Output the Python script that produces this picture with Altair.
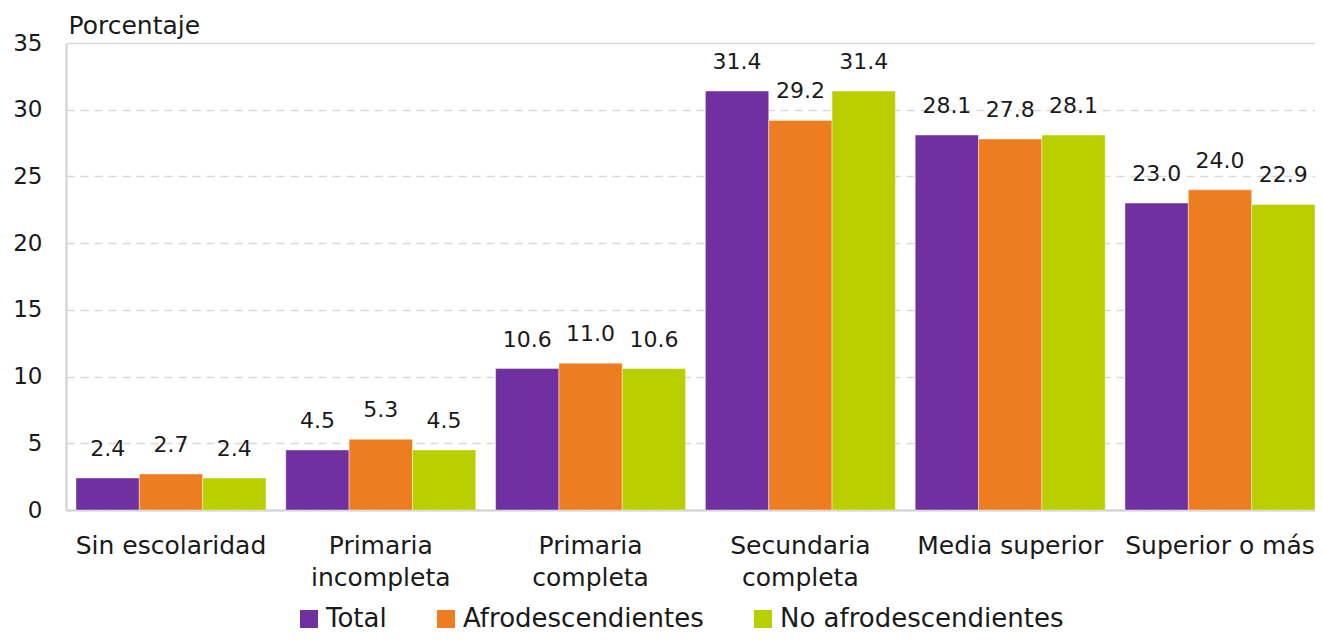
import altair as alt
import pandas as pd

categories = ["Sin escolaridad", "Primaria|incompleta", "Primaria|completa",
              "Secundaria|completa", "Media superior", "Superior o más"]
series = ["Total", "Afrodescendientes", "No afrodescendientes"]
total = [2.4, 4.5, 10.6, 31.4, 28.1, 23.0]
afro = [2.7, 5.3, 11.0, 29.2, 27.8, 24.0]
no_afro = [2.4, 4.5, 10.6, 31.4, 28.1, 22.9]
colors = ["#7030A0", "#EE7D22", "#B9CF00"]

rows = []
for i, c in enumerate(categories):
    for s, vals in zip(series, [total, afro, no_afro]):
        rows.append({"cat": c, "serie": s, "valor": vals[i], "label": f"{vals[i]:.1f}"})
df = pd.DataFrame(rows)

FONT = "DejaVu Sans"

x = alt.X("cat:N", sort=categories,
          scale=alt.Scale(paddingInner=0.0944, paddingOuter=0.0238, align=1),
          axis=alt.Axis(title=None, labelAngle=0, labelExpr="split(datum.label, '|')",
                        labelFontSize=25, labelFont=FONT, labelColor="#1a1a1a",
                        labelLineHeight=32, labelPadding=23, ticks=False, labelLimit=300,
                        domainColor="#d0d0d0", domainWidth=2, grid=False))
xo = alt.XOffset("serie:N", sort=series)

y = alt.Y("valor:Q", scale=alt.Scale(domain=[0, 35]),
          axis=alt.Axis(values=list(range(0, 36, 5)), title="Porcentaje",
                        titleAngle=0, titleAlign="left", titleX=2, titleY=-10,
                        titleBaseline="alphabetic", titleFont=FONT, titleFontSize=25,
                        titleFontWeight="normal", titleColor="#1a1a1a",
                        labelFont=FONT, labelFontSize=23, labelColor="#1a1a1a",
                        labelPadding=24, ticks=False,
                        domainColor="#d0d0d0", domainWidth=2,
                        gridColor="#d9d9d9", gridWidth=1.5,
                        gridDash={"condition": {"test": "datum.value === 35", "value": [1, 0]},
                                  "value": [8, 6]}))

color = alt.Color("serie:N", sort=series,
                  scale=alt.Scale(domain=series, range=colors),
                  legend=alt.Legend(title=None, orient="none", direction="horizontal",
                                    legendX=230, legendY=563,
                                    symbolType="square", symbolSize=324,
                                    symbolStrokeWidth=0, symbolOpacity=1,
                                    labelFont=FONT, labelFontSize=26,
                                    labelLimit=400,
                                    labelColor="#1a1a1a", columnPadding=46, labelOffset=4))

bars = alt.Chart(df).mark_bar(stroke="white", strokeWidth=0.6, strokeOpacity=0.7).encode(
    x=x, xOffset=xo, y=y, color=color)

text = alt.Chart(df).mark_text(baseline="bottom", dy=-17, font=FONT, fontSize=22,
                               color="#1a1a1a").encode(
    x=x, xOffset=xo, y=y, text="label:N")

chart = alt.layer(bars, text).properties(
    width=1249, height=467,
    autosize=alt.AutoSizeParams(type="none"),
    padding={"left": 58, "top": 35, "right": 0, "bottom": 125},
).configure_view(stroke=None)

chart.save("out.html", embed_options={"renderer": "svg", "actions": False})
